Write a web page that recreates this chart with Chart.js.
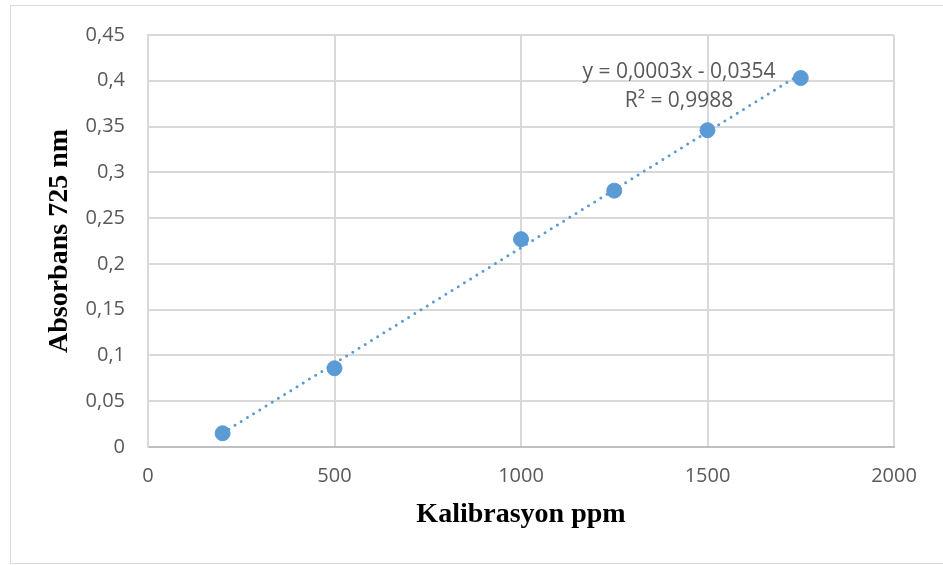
<!DOCTYPE html>
<html>
<head>
<meta charset="utf-8">
<script src="https://cdn.jsdelivr.net/npm/chart.js@4"></script>
<style>
  html, body { margin: 0; padding: 0; background: #fff; }
  #wrap { position: relative; width: 943px; height: 565px; }
</style>
</head>
<body>
<div id="wrap"><canvas id="c" width="943" height="565"></canvas></div>
<script>
// Data
const xValues = [200, 500, 1000, 1250, 1500, 1750];
const yValues = [0.015, 0.086, 0.227, 0.280, 0.346, 0.403];
const xTickLabels = ['0', '500', '1000', '1500', '2000'];
const yTickLabels = ['0', '0,05', '0,1', '0,15', '0,2', '0,25', '0,3', '0,35', '0,4', '0,45'];
const equationLines = ['y = 0,0003x - 0,0354', 'R² = 0,9988'];
const xTitle = 'Kalibrasyon ppm';
const yTitle = 'Absorbans 725 nm';

// Linear trendline (least squares) over the data range
const n = xValues.length;
const mx = xValues.reduce((a, b) => a + b, 0) / n;
const my = yValues.reduce((a, b) => a + b, 0) / n;
let sxy = 0, sxx = 0;
for (let i = 0; i < n; i++) { sxy += (xValues[i] - mx) * (yValues[i] - my); sxx += (xValues[i] - mx) ** 2; }
const slope = sxy / sxx;
const intercept = my - slope * mx;
const xMin = Math.min(...xValues), xMax = Math.max(...xValues);
const trend = [{ x: xMin, y: intercept + slope * xMin }, { x: xMax, y: intercept + slope * xMax }];

const blue = '#5b9bd5';
const grid = '#d9d9d9';
const tickColor = '#595959';

const decor = {
  id: 'decor',
  beforeDraw(chart) {
    const ctx = chart.ctx;
    ctx.save();
    ctx.fillStyle = '#fff';
    ctx.fillRect(0, 0, chart.width, chart.height);
    ctx.strokeStyle = '#d9d9d9';
    ctx.lineWidth = 1;
    ctx.strokeRect(10.5, 5.5, 940, 558);
    ctx.restore();
  },
  afterDatasetsDraw(chart) {
    const ctx = chart.ctx;
    ctx.save();
    ctx.fillStyle = '#595959';
    ctx.font = '21px "Open Sans"';
    ctx.textAlign = 'center';
    ctx.textBaseline = 'alphabetic';
    ctx.fillText(equationLines[0], 679, 78);
    ctx.fillText(equationLines[1], 679, 107);
    ctx.restore();
  }
};

new Chart(document.getElementById('c'), {
  type: 'scatter',
  data: {
    datasets: [
      {
        type: 'line',
        data: trend,
        borderColor: blue,
        borderWidth: 3,
        borderDash: [0, 7.3],
        borderCapStyle: 'round',
        pointRadius: 0,
        fill: false
      },
      {
        data: xValues.map((x, i) => ({ x, y: yValues[i] })),
        backgroundColor: blue,
        borderColor: blue,
        pointRadius: 7.5,
        pointHoverRadius: 7.5
      }
    ]
  },
  options: {
    responsive: false,
    animation: false,
    events: [],
    layout: { padding: { left: 30, top: 34, right: 49, bottom: 0 } },
    plugins: { legend: { display: false }, tooltip: { enabled: false } },
    scales: {
      x: {
        type: 'linear',
        min: 0, max: 2000,
        afterFit(scale) { scale.height = 118; },
        ticks: {
          stepSize: 500,
          color: tickColor,
          font: { family: '"Open Sans"', size: 20 },
          padding: 17,
          maxRotation: 0,
          callback(v) { return xTickLabels[Math.round(v / 500)]; }
        },
        grid: { color: grid, lineWidth: 2, drawTicks: false },
        border: { color: '#bfbfbf', width: 2 },
        title: {
          display: true,
          text: xTitle,
          color: '#000',
          font: { family: '"Liberation Serif"', size: 28, weight: 'bold' },
          padding: { top: 0, bottom: 33 }
        }
      },
      y: {
        type: 'linear',
        min: 0, max: 0.45,
        afterFit(scale) { scale.width = 118; },
        ticks: {
          stepSize: 0.05,
          color: tickColor,
          font: { family: '"Open Sans"', size: 20 },
          padding: 23,
          callback(v) { return yTickLabels[Math.round(v / 0.05)]; }
        },
        grid: { color: grid, lineWidth: 2, drawTicks: false },
        border: { color: grid, width: 2 },
        title: {
          display: true,
          text: yTitle,
          color: '#000',
          font: { family: '"Liberation Serif"', size: 28, weight: 'bold' },
          padding: { top: 13, bottom: 0 }
        }
      }
    }
  },
  plugins: [decor]
});
</script>
</body>
</html>
